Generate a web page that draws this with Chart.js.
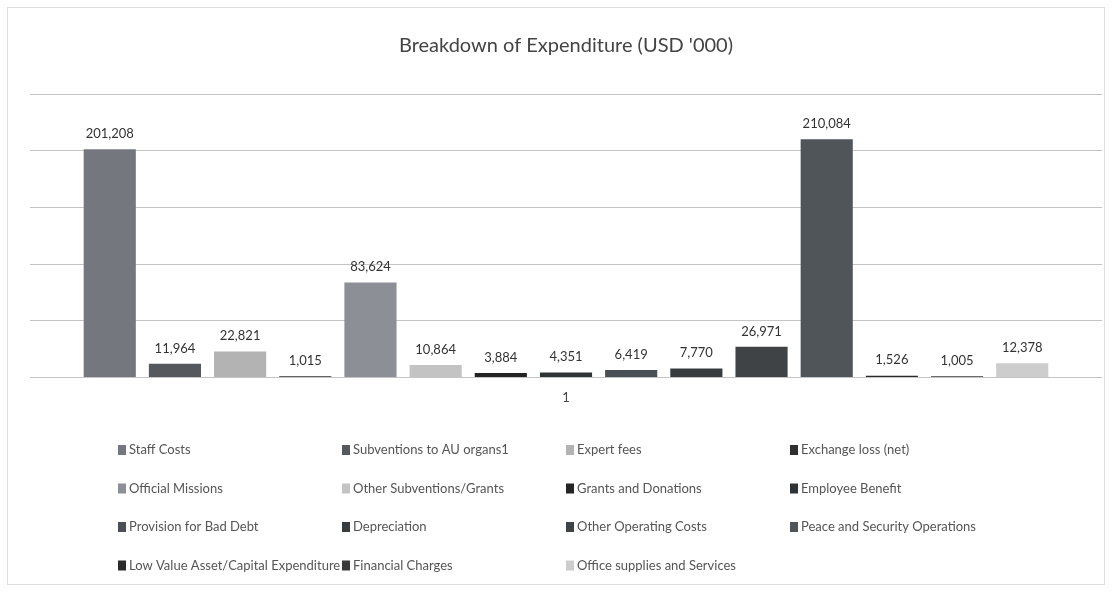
<!DOCTYPE html>
<html>
<head>
<meta charset="utf-8">
<script src="https://cdn.jsdelivr.net/npm/chart.js@4"></script>
<style>
  html, body { margin: 0; padding: 0; background: #fff; }
  #wrap { position: relative; width: 1112px; height: 593px; }
</style>
</head>
<body>
<div id="wrap"><canvas id="chart" width="1112" height="593"></canvas></div>
<script>
// Data (USD '000)
const categories = ["1"];
const seriesNames = [
  "Staff Costs", "Subventions to AU organs1", "Expert fees", "Exchange loss (net)",
  "Official Missions", "Other Subventions/Grants", "Grants and Donations", "Employee Benefit",
  "Provision for Bad Debt", "Depreciation", "Other Operating Costs", "Peace and Security Operations",
  "Low Value Asset/Capital Expenditure", "Financial Charges", "Office supplies and Services"
];
const seriesValues = [
  201208, 11964, 22821, 1015,
  83624, 10864, 3884, 4351,
  6419, 7770, 26971, 210084,
  1526, 1005, 12378
];
const seriesColors = [
  "#74787e", "#55595d", "#b3b3b3", "#2f2f2f",
  "#8c8f95", "#c3c3c3", "#242424", "#2e3335",
  "#4a4f55", "#383c3e", "#3f4345", "#50555a",
  "#2a2a2a", "#3a3a3a", "#cdcdcd"
];
const yMax = 250000;
const yStep = 50000;

const fmt = v => v.toLocaleString("en-US");

// value labels above each bar
const valueLabels = {
  id: "valueLabels",
  afterDatasetsDraw(chart) {
    const ctx = chart.ctx;
    ctx.save();
    ctx.font = "13px Lato, 'Open Sans', sans-serif";
    ctx.fillStyle = "#333";
    ctx.textAlign = "center";
    ctx.textBaseline = "bottom";
    chart.data.datasets.forEach((ds, i) => {
      const meta = chart.getDatasetMeta(i);
      meta.data.forEach((bar, j) => {
        ctx.fillText(fmt(ds.data[j]), bar.x, bar.y - 9);
      });
    });
    ctx.restore();
  }
};

// 4-column legend under the axis
const gridLegend = {
  id: "gridLegend",
  afterDraw(chart) {
    const ctx = chart.ctx;
    const left = 118, colW = 224, top = 450, rowH = 38.5;
    ctx.save();
    ctx.font = "13px Lato, 'Open Sans', sans-serif";
    ctx.textBaseline = "middle";
    ctx.textAlign = "left";
    chart.data.datasets.forEach((ds, i) => {
      const x = left + (i % 4) * colW;
      const y = top + Math.floor(i / 4) * rowH;
      ctx.fillStyle = ds.backgroundColor;
      ctx.fillRect(x, y - 5, 8, 10);
      ctx.fillStyle = "#555";
      ctx.fillText(ds.label, x + 11, y);
    });
    // faint frame of the chart object
    ctx.strokeStyle = "#dcdcdc";
    ctx.lineWidth = 1;
    ctx.strokeRect(7.5, 7.5, 1097, 577);
    ctx.restore();
  }
};

const datasets = seriesNames.map((name, i) => ({
  label: name,
  data: [seriesValues[i]],
  backgroundColor: seriesColors[i],
  borderWidth: 0,
  categoryPercentage: 0.912,
  barPercentage: 0.8
}));

new Chart(document.getElementById("chart"), {
  type: "bar",
  data: { labels: categories, datasets },
  options: {
    responsive: false,
    animation: false,
    layout: { padding: { top: 0, left: 30, right: 10, bottom: 174 } },
    plugins: {
      legend: { display: false },
      tooltip: { enabled: false },
      title: {
        display: true,
        text: "Breakdown of Expenditure (USD '000)",
        color: "#444",
        font: { family: "Lato, 'Open Sans', sans-serif", size: 20, weight: "normal" },
        padding: { top: 34, bottom: 36 }
      }
    },
    scales: {
      x: {
        grid: { display: false, drawTicks: false },
        border: { display: false },
        ticks: { color: "#444", font: { family: "Lato, sans-serif", size: 13 }, padding: 13 }
      },
      y: {
        min: 0,
        max: yMax,
        ticks: { display: false, stepSize: yStep },
        grid: { color: "#c4c4c4", lineWidth: 1, drawTicks: false },
        border: { display: false }
      }
    }
  },
  plugins: [valueLabels, gridLegend]
});
</script>
</body>
</html>
